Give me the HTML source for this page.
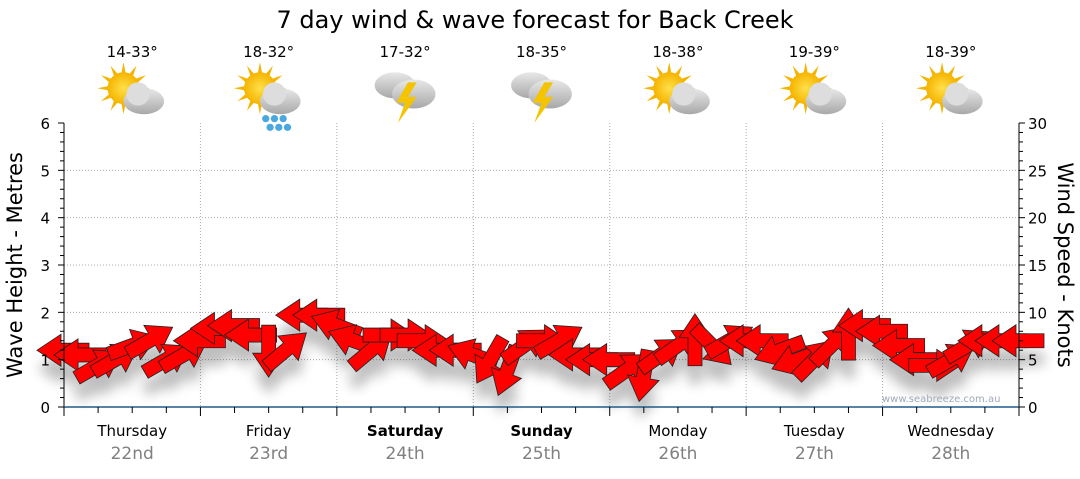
<!DOCTYPE html>
<html><head><meta charset="utf-8"><style>
body{margin:0;background:#fff;width:1080px;height:475px;overflow:hidden;font-family:"DejaVu Sans","Liberation Sans",sans-serif}
svg text{font-family:"DejaVu Sans","Liberation Sans",sans-serif}
</style></head><body>
<svg id="chart" width="1080" height="475">
<defs>
<filter id="sh" x="-50%" y="-50%" width="200%" height="200%"><feGaussianBlur stdDeviation="6"/></filter>
<radialGradient id="sun"><stop offset="0" stop-color="#ffe04a"/><stop offset="1" stop-color="#f5b400"/></radialGradient>
<linearGradient id="cl" x1="0" y1="0" x2="0" y2="1"><stop offset="0" stop-color="#e8e8e8"/><stop offset="1" stop-color="#a8a8a8"/></linearGradient>
</defs>
<text x="535" y="28" font-size="24" text-anchor="middle">7 day wind &amp; wave forecast for Back Creek</text>
<g id="grid"></g><g id="shadow" filter="url(#sh)" opacity="0.25"></g><g id="arrows"></g><g id="axes"></g><g id="heads"></g>
<text x="882" y="402" font-size="10" fill="#a0a8b8">www.seabreeze.com.au</text>
<text transform="translate(22,265) rotate(-90)" font-size="21" text-anchor="middle">Wave Height - Metres</text>
<text transform="translate(1058,265) rotate(90)" font-size="21" text-anchor="middle">Wind Speed - Knots</text>
</svg>
<script>
const days=["Thursday","Friday","Saturday","Sunday","Monday","Tuesday","Wednesday"];
const dates=["22nd","23rd","24th","25th","26th","27th","28th"];
const temps=["14-33°","18-32°","17-32°","18-35°","18-38°","19-39°","18-39°"];
const icons=["suncloud","rain","storm","storm","suncloud","suncloud","suncloud"];
const windSpeed=[6.0,5.5,4.4,5,6.5,7,5,5.5, 7,8.3,8.6,7.6,6,6,9.7,9.7, 8.6,7,6,7.6,7.6,7,6,6, 5.5,5,3.9,6.5,7,7,5.5,5, 5,3.9,3.4,5.5,6.5,7,6.5,7, 7,7,6,5,5,6.5,7.6,8.6, 8,6.5,5,4.4,5,6.5,7,7,7];
const windDir=[180,180,-30,-30,-20,-30,-30,-30, 180,180,180,180,90,-40,180,180, 200,200,-40,0,0,0,180,180, 200,120,110,-35,0,-30,180,180, 180,-35,100,-35,-35,-90,45,-30, 180,180,160,160,-45,-45,-90,180, 180,180,180,0,-30,-30,180,180,180];
const X0=64,X1=1019,Y0=407,Y1=123;
const xs=i=>X0+(X1-X0)*i/(windSpeed.length-1);
const yK=k=>Y0-(Y0-Y1)*k/30;
const yM=m=>Y0-(Y0-Y1)*m/6;
const NS="http://www.w3.org/2000/svg";
function mk(t,a,p){const e=document.createElementNS(NS,t);for(const k in a)e.setAttribute(k,a[k]);(p||document.getElementById('chart')).appendChild(e);return e;}
const grid=document.getElementById('grid'),axes=document.getElementById('axes'),heads=document.getElementById('heads');
for(let m=1;m<=5;m++){const l=mk('line',{x1:X0,x2:X1,y1:yM(m),y2:yM(m),stroke:'#aaa','stroke-dasharray':'1,2'},grid);}
for(let d=1;d<7;d++){const x=X0+(X1-X0)*d/7;const l=mk('line',{x1:x,x2:x,y1:Y1,y2:Y0,stroke:'#aaa','stroke-dasharray':'1,2'},grid);}
mk('line',{x1:X0,x2:X0,y1:Y1,y2:Y0,stroke:'#000'},axes);
mk('line',{x1:X1,x2:X1,y1:Y1,y2:Y0,stroke:'#000'},axes);
mk('line',{x1:X0,x2:X1,y1:Y0,y2:Y0,stroke:'#1f5a8a','stroke-width':1.5},axes);
for(let i=0;i<=30;i++){const y=yM(i/5);const big=i%5==0;
mk('line',{x1:X0-(big?6:4),x2:X0,y1:y,y2:y,stroke:'#000'},axes);
mk('line',{x1:X1,x2:X1+(big?6:4),y1:y,y2:y,stroke:'#000'},axes);}
for(let m=0;m<=6;m++){const t=mk('text',{x:50,y:yM(m)+6,'font-size':15,'text-anchor':'end'},axes);t.textContent=m;}
for(let k=0;k<=30;k+=5){const t=mk('text',{x:1028,y:yK(k)+6,'font-size':15},axes);t.textContent=k;}
for(let q=0;q<=28;q++){const x=X0+(X1-X0)*q/28;mk('line',{x1:x,x2:x,y1:Y0,y2:Y0+(q%4==0?9:6),stroke:'#000'},axes);}
days.forEach((d,i)=>{const cx=X0+(X1-X0)*(i+0.5)/7;
const t=mk('text',{x:cx,y:436,'font-size':15,'text-anchor':'middle','font-weight':(i==2||i==3)?'bold':'normal'});t.textContent=d;
const t2=mk('text',{x:cx,y:459,'font-size':17,'text-anchor':'middle',fill:'#808080'});t2.textContent=dates[i];
const t3=mk('text',{x:cx,y:57,'font-size':15,'text-anchor':'middle'});t3.textContent=temps[i];
const g=mk('g',{transform:`translate(${cx},94) scale(1.45)`},heads);
if(icons[i]!='storm'){for(let r=0;r<12;r++){const a=r*30*Math.PI/180;mk('polygon',{points:`${-6+18*Math.cos(a)},${-4+18*Math.sin(a)} ${-6+8*Math.cos(a+0.25)},${-4+8*Math.sin(a+0.25)} ${-6+8*Math.cos(a-0.25)},${-4+8*Math.sin(a-0.25)}`,fill:'#f5b400'},g);}
mk('circle',{cx:-6,cy:-4,r:11,fill:'url(#sun)'},g);
mk('ellipse',{cx:8,cy:5,rx:14,ry:9,fill:'url(#cl)'},g);mk('circle',{cx:4,cy:0,r:8,fill:'#ddd'},g);
if(icons[i]=='rain'){[0,6,12].forEach(o=>{mk('circle',{cx:-2+o,cy:17,r:2.5,fill:'#4aa8e0'},g);mk('circle',{cx:1+o,cy:23,r:2.5,fill:'#4aa8e0'},g);});}}
else{mk('ellipse',{cx:-7,cy:-6,rx:14,ry:9,fill:'url(#cl)'},g);mk('ellipse',{cx:6,cy:0,rx:15,ry:10,fill:'url(#cl)'},g);
mk('polygon',{points:'2,-8 -6,6 0,6 -5,20 8,2 2,2 8,-8',fill:'#f5c400'},g);}
});
const ar=document.getElementById('arrows'),sh=document.getElementById('shadow');
const P="-25,-7 3,-7 3,-16 27,0 3,16 3,7 -25,7";
windSpeed.forEach((k,i)=>{const x=xs(i),y=yK(k);
const s=mk('polygon',{points:P,fill:'#000',transform:`translate(${x},${y+18}) rotate(${windDir[i]})`},sh);
const p=mk('polygon',{points:P,fill:'#ff0000',stroke:'#222','stroke-width':0.8,transform:`translate(${x},${y}) rotate(${windDir[i]})`},ar);

});
</script>
</body></html>
